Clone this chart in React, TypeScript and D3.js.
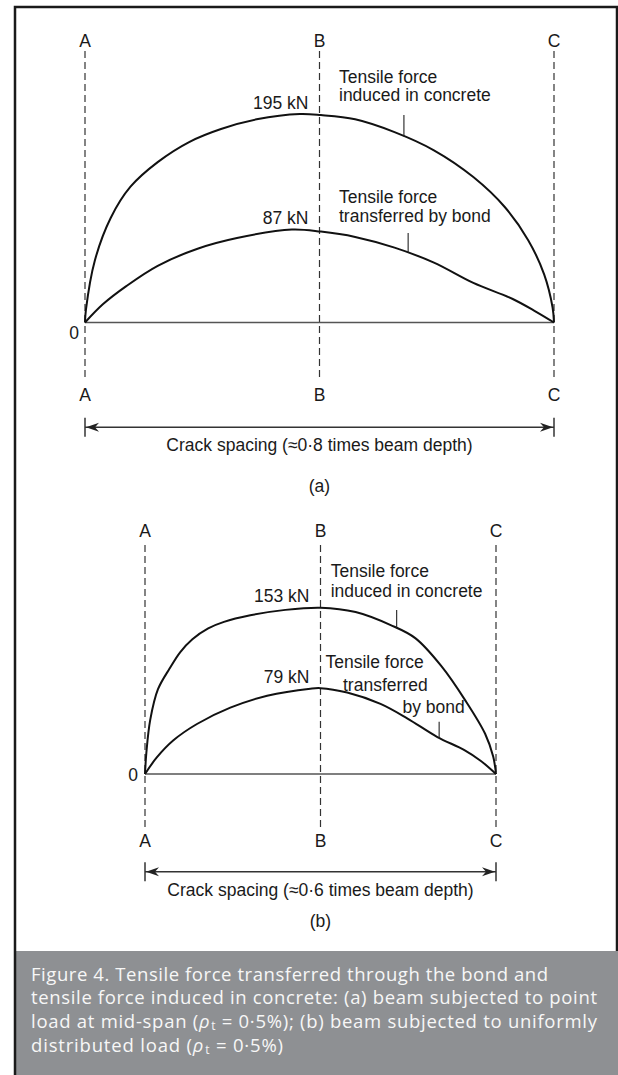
import React from 'react'
import * as d3 from 'd3'

// section marks along each crack spacing
const sectionLabels = ['A', 'B', 'C']
const sectionPos = [0, 0.5, 1]

// (a) point load at mid-span: position along span (0 = A, 1 = C), force in kN
const posConcreteA = [0, 0.002, 0.021, 0.055, 0.097, 0.155, 0.223, 0.29, 0.366, 0.458, 0.503, 0.576, 0.66, 0.744, 0.828, 0.895, 0.945, 0.979, 0.997, 1]
const concreteA = [0, 12, 58, 98, 127, 150, 169, 181, 190, 195, 194, 190, 178, 161, 136, 108, 77, 45, 14, 0]
const posBondA = [0, 0.038, 0.088, 0.155, 0.24, 0.324, 0.441, 0.503, 0.576, 0.66, 0.744, 0.828, 0.912, 0.962, 1]
const bondA = [0, 17, 34, 53, 69, 79, 87, 85, 80, 70, 56, 37, 22, 10, 0]
const peaksA = [195, 87]

// (b) uniformly distributed load
const posConcreteB = [0, 0.004, 0.015, 0.037, 0.07, 0.1, 0.135, 0.18, 0.225, 0.3, 0.4, 0.5, 0.6, 0.7, 0.77, 0.845, 0.912, 0.969, 0.992, 1]
const concreteB = [0, 20, 50, 78, 97, 112, 124, 134, 140, 146, 151, 153, 149, 137, 125, 99, 68, 37, 16, 0]
const posBondB = [0, 0.033, 0.081, 0.148, 0.243, 0.348, 0.471, 0.5, 0.576, 0.671, 0.748, 0.833, 0.91, 0.957, 1]
const bondB = [0, 15, 31, 46, 61, 72, 78.5, 79, 75, 64.5, 51, 34, 22, 12, 0]
const peaksB = [153, 79]

const concreteText = ['Tensile force', 'induced in concrete']
const bondTextA = ['Tensile force', 'transferred by bond']
const bondTextB = ['Tensile force', 'transferred', 'by bond']
const spacingTextA = 'Crack spacing (\u22480\u00b78 times beam depth)'
const spacingTextB = 'Crack spacing (\u22480\u00b76 times beam depth)'

const font = 'Liberation Sans, Arial, sans-serif'
const ink = '#1a1a1a'

type Lbl = { text: string; x: number; y: number }

interface PanelProps {
  xA: number
  xC: number
  yZero: number
  yPeak: number
  peaks: number[]
  concrete: [number[], number[]]
  bond: [number[], number[]]
  letterTop: number
  letterBottom: number
  dash: [number, number]
  zero: { dx: number; y: number }
  notes: Lbl[]
  leaders: { f: number; top: number; which: 'c' | 'b' }[]
  arrowY: number
  spacing: string
  spacingY: number
  tag: string
  tagY: number
}

function Panel(p: PanelProps) {
  const x = d3.scaleLinear().domain([0, 1]).range([p.xA, p.xC])
  const y = d3.scaleLinear().domain([0, p.peaks[0]]).range([p.yZero, p.yPeak])
  const line = d3.line<[number, number]>()
    .x(d => x(d[0]))
    .y(d => y(d[1]))
    .curve(d3.curveCatmullRom.alpha(0.5))
  const zip = (s: [number[], number[]]) => s[0].map((f, i) => [f, s[1][i]] as [number, number])
  const along = {
    c: d3.scaleLinear().domain(p.concrete[0]).range(p.concrete[1]),
    b: d3.scaleLinear().domain(p.bond[0]).range(p.bond[1]),
  }
  const xB = x(0.5)
  const x0 = x(0), x1 = x(1), ay = p.arrowY
  return (
    <g fontFamily={font} fontSize={17.5} fill={ink}>
      {sectionPos.map((f, i) => (
        <g key={i}>
          <line x1={x(f)} x2={x(f)} y1={p.dash[0]} y2={p.dash[1]} stroke="#333" strokeWidth={1.2} strokeDasharray="7,4" />
          <text x={x(f)} y={p.letterTop} textAnchor="middle">{sectionLabels[i]}</text>
          <text x={x(f)} y={p.letterBottom} textAnchor="middle">{sectionLabels[i]}</text>
        </g>
      ))}
      <line x1={x0} x2={x1} y1={y(0)} y2={y(0)} stroke="#555" strokeWidth={1.6} />
      <text x={x0 + p.zero.dx} y={p.zero.y} textAnchor="middle">0</text>
      <path d={line(zip(p.concrete)) || ''} fill="none" stroke="#111" strokeWidth={2} />
      <path d={line(zip(p.bond)) || ''} fill="none" stroke="#111" strokeWidth={2} />
      {p.peaks.map((v, i) => (
        <text key={i} x={xB - 11} y={y(v) - 5.5} textAnchor="end">{`${v} kN`}</text>
      ))}
      {p.notes.map((n, i) => (
        <text key={i} x={n.x} y={n.y}>{n.text}</text>
      ))}
      {p.leaders.map((l, i) => (
        <line key={i} x1={x(l.f)} x2={x(l.f)} y1={l.top} y2={y(along[l.which](l.f))} stroke="#222" strokeWidth={1.1} />
      ))}
      <line x1={x0} x2={x1} y1={ay} y2={ay} stroke="#333" strokeWidth={1.5} />
      <line x1={x0} x2={x0} y1={ay - 9.5} y2={ay + 9.5} stroke="#333" strokeWidth={1.5} />
      <line x1={x1} x2={x1} y1={ay - 9.5} y2={ay + 9.5} stroke="#333" strokeWidth={1.5} />
      <path d={`M${x0 + 1},${ay} L${x0 + 14},${ay - 4.5} L${x0 + 10},${ay} L${x0 + 14},${ay + 4.5} Z`} fill="#222" />
      <path d={`M${x1 - 1},${ay} L${x1 - 14},${ay - 4.5} L${x1 - 10},${ay} L${x1 - 14},${ay + 4.5} Z`} fill="#222" />
      <text x={xB} y={p.spacingY} textAnchor="middle">{p.spacing}</text>
      <text x={xB} y={p.tagY} textAnchor="middle">{p.tag}</text>
    </g>
  )
}

function Rho() {
  return (
    <>
      <tspan fontStyle="italic">{'\u03c1'}</tspan>
      <tspan fontSize={12} dx={1} baselineShift="-20%">t</tspan>
      <tspan>{' = 0\u00b75%)'}</tspan>
    </>
  )
}

export default function App() {
  const capX = 31
  return (
    <svg width={618} height={1075} style={{ position: 'absolute', left: 0, top: 0, background: '#fff' }}>
      <Panel
        xA={85} xC={554} yZero={322.5} yPeak={114} peaks={peaksA}
        concrete={[posConcreteA, concreteA]} bond={[posBondA, bondA]}
        letterTop={46.5} letterBottom={400.7} dash={[51, 378]}
        zero={{ dx: -11, y: 339 }}
        notes={[
          { text: concreteText[0], x: 339, y: 82.7 },
          { text: concreteText[1], x: 339, y: 100.7 },
          { text: bondTextA[0], x: 339, y: 203.3 },
          { text: bondTextA[1], x: 339, y: 221.7 },
        ]}
        leaders={[{ f: 0.68, top: 115, which: 'c' }, { f: 0.689, top: 233, which: 'b' }]}
        arrowY={427.3} spacing={spacingTextA} spacingY={451} tag="(a)" tagY={491.7}
      />
      <Panel
        xA={145} xC={496} yZero={774} yPeak={607.7} peaks={peaksB}
        concrete={[posConcreteB, concreteB]} bond={[posBondB, bondB]}
        letterTop={536.7} letterBottom={846.7} dash={[545, 827]}
        zero={{ dx: -12, y: 781 }}
        notes={[
          { text: concreteText[0], x: 330.7, y: 577 },
          { text: concreteText[1], x: 330.7, y: 596.7 },
          { text: bondTextB[0], x: 325.5, y: 667.5 },
          { text: bondTextB[1], x: 343, y: 690.5 },
          { text: bondTextB[2], x: 402.5, y: 713 },
        ]}
        leaders={[{ f: 0.717, top: 610, which: 'c' }, { f: 0.838, top: 721.7, which: 'b' }]}
        arrowY={871.7} spacing={spacingTextB} spacingY={896} tag="(b)" tagY={927}
      />
      <rect x={16} y={951} width={602} height={124} fill="#8e9093" />
      <path d="M15,1075 V7 H617 V951" fill="none" stroke="#1a1a1a" strokeWidth={2.5} />
      <g fontFamily="Open Sans, Lato, sans-serif" fontSize={18.5} fill="#f7f7f7">
        <text x={capX} y={980.5} textLength={517} lengthAdjust="spacing">Figure 4. Tensile force transferred through the bond and</text>
        <text x={capX} y={1004} textLength={566} lengthAdjust="spacing">tensile force induced in concrete: (a) beam subjected to point</text>
        <text x={capX} y={1028} textLength={566} lengthAdjust="spacing">load at mid-span (<Rho />; (b) beam subjected to uniformly</text>
        <text x={capX} y={1051.5} textLength={252} lengthAdjust="spacing">distributed load (<Rho /></text>
      </g>
    </svg>
  )
}
